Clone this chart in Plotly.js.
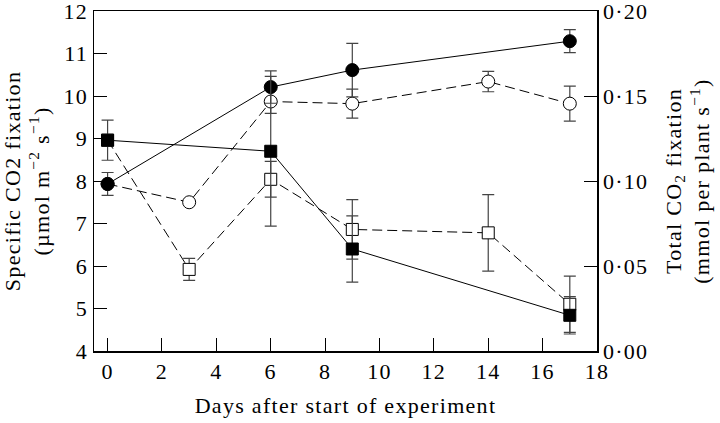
<!DOCTYPE html>
<html>
<head>
<meta charset="utf-8">
<script src="https://cdn.plot.ly/plotly-3.0.1.min.js"></script>
<style>html,body{margin:0;padding:0;background:#fff;}#chart{width:720px;height:423px;}#chart text{letter-spacing:1.3px;}</style>
</head>
<body>
<div id="chart"></div>
<script>
// Specific CO2 fixation (left axis, µmol m-2 s-1) — circles
const daysFilledCircle = [0, 6, 9, 17];
const specFilled = [7.93, 10.21, 10.61, 11.29];
const specFilledErr = [0.27, 0.38, 0.63, 0.27];

const daysOpenCircle = [0, 3, 6, 9, 14, 17];
const specOpen = [7.93, 7.5, 9.87, 9.82, 10.34, 9.82];
const specOpenErr = [0, 0, 0.28, 0.34, 0.24, 0.41];

// Total CO2 fixation (right axis, mmol per plant s-1) — squares
const daysFilledSquare = [0, 6, 9, 17];
const totFilled = [0.124, 0.1175, 0.060, 0.021];
const totFilledErr = [0.0118, 0.044, 0.0195, 0.011];

const daysOpenSquare = [0, 3, 6, 9, 14, 17];
const totOpen = [0.124, 0.048, 0.101, 0.0715, 0.0695, 0.0275];
const totOpenErr = [0, 0.0065, 0.0105, 0.0175, 0.0225, 0.0165];

const xTicks = [0, 2, 4, 6, 8, 10, 12, 14, 16, 18];
const leftTicks = [4, 5, 6, 7, 8, 9, 10, 11, 12];
const rightTickVals = [0, 0.05, 0.10, 0.15, 0.20];
const rightTickText = ['0·00', '0·05', '0·10', '0·15', '0·20'];

const errStyle = {type: 'data', visible: true, color: '#444', thickness: 1.2, width: 6};
const dashPat = '10px,5px';

const traces = [
  {x: daysOpenSquare, y: totOpen, yaxis: 'y2', mode: 'lines+markers',
   line: {color: '#000', width: 1, dash: dashPat},
   marker: {symbol: 'square', size: 12, color: '#fff', line: {color: '#000', width: 1}},
   error_y: Object.assign({array: totOpenErr}, errStyle)},
  {x: daysFilledSquare, y: totFilled, yaxis: 'y2', mode: 'lines+markers',
   line: {color: '#000', width: 1},
   marker: {symbol: 'square', size: 12, color: '#000', line: {color: '#000', width: 1}},
   error_y: Object.assign({array: totFilledErr}, errStyle)},
  {x: daysOpenCircle, y: specOpen, mode: 'lines+markers',
   line: {color: '#000', width: 1, dash: dashPat},
   marker: {symbol: 'circle', size: 13, color: '#fff', line: {color: '#000', width: 1}},
   error_y: Object.assign({array: specOpenErr}, errStyle)},
  {x: daysFilledCircle, y: specFilled, mode: 'lines+markers',
   line: {color: '#000', width: 1},
   marker: {symbol: 'circle', size: 13, color: '#000', line: {color: '#000', width: 1}},
   error_y: Object.assign({array: specFilledErr}, errStyle)}
];

const font = {family: '"Liberation Serif", "DejaVu Serif", serif', size: 22, color: '#000'};

const layout = {
  width: 720, height: 423,
  margin: {l: 94, r: 123, t: 11, b: 72},
  paper_bgcolor: '#fff', plot_bgcolor: '#fff',
  showlegend: false,
  font: font,
  xaxis: {
    range: [-0.5, 18], tickvals: xTicks, ticks: 'inside', ticklen: 13, tickwidth: 1, tickcolor: '#000',
    showline: true, linecolor: '#000', linewidth: 1.5, mirror: true, showgrid: false, zeroline: false,
    tickfont: font, ticklabeloverflow: 'allow',
    title: {text: 'Days after start of experiment', font: font, standoff: 14}
  },
  yaxis: {
    range: [4, 12], tickvals: leftTicks, ticks: 'inside', ticklen: 13, tickwidth: 1, tickcolor: '#000',
    showline: true, linecolor: '#000', linewidth: 1.5, showgrid: false, zeroline: false,
    tickfont: font, ticklabeloverflow: 'allow',
    title: {text: 'Specific CO2 fixation<br>(µmol m<sup>−2</sup> s<sup>−1</sup>)', font: font, standoff: 11}
  },
  yaxis2: {
    overlaying: 'y', side: 'right',
    range: [0, 0.2], tickvals: rightTickVals, ticktext: rightTickText,
    ticks: 'inside', ticklen: 13, tickwidth: 1, tickcolor: '#000',
    showline: true, linecolor: '#000', linewidth: 1.5, showgrid: false, zeroline: false,
    tickfont: font, ticklabeloverflow: 'allow',
    title: {text: 'Total CO<sub>2</sub> fixation<br>(mmol per plant s<sup>−1</sup>)', font: font, standoff: 23}
  }
};

Plotly.newPlot('chart', traces, layout, {displayModeBar: false, staticPlot: true});
</script>
</body>
</html>
